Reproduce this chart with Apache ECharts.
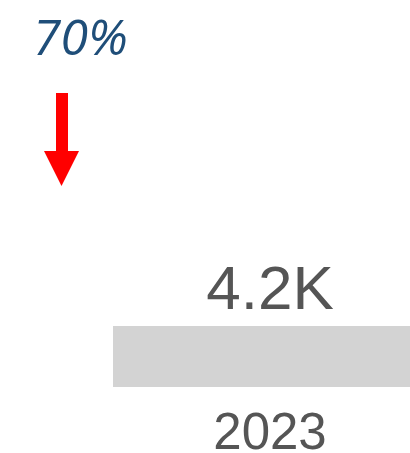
<!DOCTYPE html>
<html>
<head>
<meta charset="utf-8">
<script src="https://cdn.jsdelivr.net/npm/echarts@6/dist/echarts.min.js"></script>
<style>
html,body{margin:0;padding:0;background:#fff;}
#c{width:410px;height:453px;}
</style>
</head>
<body>
<div id="c"></div>
<script>
const categories = ['2023'];
const values = [4200];
const changeText = '70%';

const chart = echarts.init(document.getElementById('c'), null, {renderer: 'canvas'});
chart.setOption({
  animation: false,
  grid: {left: 113, right: -17, top: 326, bottom: 66, containLabel: false, outerBoundsMode: 'none'},
  xAxis: {
    type: 'category',
    data: categories,
    axisLine: {show: false},
    axisTick: {show: false},
    axisLabel: {
      color: '#555555',
      fontFamily: 'Liberation Sans',
      fontSize: 51,
      margin: 22
    }
  },
  yAxis: {
    type: 'value',
    min: 0,
    max: 4200,
    show: false,
    splitLine: {show: false}
  },
  series: [{
    type: 'bar',
    data: values,
    barWidth: '100%',
    itemStyle: {color: '#d3d3d3'},
    label: {
      show: true,
      position: 'top',
      distance: 3,
      color: '#555555',
      fontFamily: 'Liberation Sans',
      fontSize: 62,
      formatter: p => (p.value / 1000).toFixed(1) + 'K'
    }
  }],
  graphic: [
    {
      type: 'text',
      left: 33,
      top: 16,
      style: {
        text: changeText,
        fill: '#1f4e79',
        font: 'italic 50px "Open Sans"'
      }
    },
    {
      type: 'polygon',
      shape: {
        points: [[56,93],[68,93],[68,151],[79,151],[61.5,186],[44,151],[56,151]]
      },
      style: {fill: '#ff0000'}
    }
  ]
});
</script>
</body>
</html>
